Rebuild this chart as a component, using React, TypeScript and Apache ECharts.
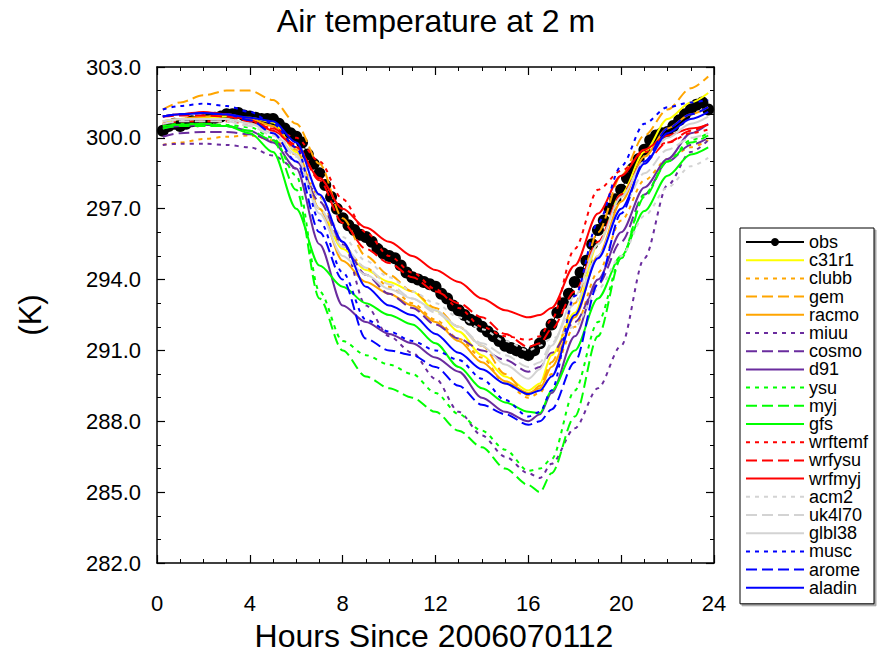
import React, { useEffect, useRef } from "react";
import * as echarts from "echarts";

// ---- Data ----
const TITLE = "Air temperature at 2 m";
const X_NAME = "Hours Since 2006070112";
const Y_NAME = "(K)";

// observation times (every 15 minutes)
const OBS_HOURS = Array.from({ length: 95 }, (_, i) => (i + 1) * 0.25);
const obs = [
  300.3, 300.5, 300.6, 300.5,
  300.6, 300.7, 300.7, 300.75,
  300.8, 300.85, 300.9, 301.0,
  301.0, 301.05, 300.95, 300.9,
  300.85, 300.8, 300.8, 300.8,
  300.6, 300.4, 300.2, 300.05,
  299.8, 299.3, 298.9, 298.5,
  298.0, 297.5, 297.0, 296.6,
  296.3, 296.1, 295.9, 295.8,
  295.6, 295.3, 295.1, 295.0,
  294.9, 294.6, 294.3, 294.1,
  294.0, 293.9, 293.8, 293.7,
  293.4, 293.2, 292.9, 292.7,
  292.5, 292.3, 292.2, 292.0,
  291.8, 291.6, 291.4, 291.2,
  291.1, 291.0, 290.9, 290.8,
  291.0, 291.3, 291.7, 292.1,
  292.6, 293.0, 293.4, 293.9,
  294.3, 294.8, 295.5, 296.1,
  296.5, 297.0, 297.4, 297.8,
  298.3, 298.7, 299.1, 299.5,
  299.9, 300.1, 300.2, 300.25,
  300.5, 300.75, 301.0, 301.2,
  301.4, 301.5, 301.2,
];

// model output times
const HOURS = [0.25, 1, 2, 3, 4, 5, 6, 7, 8, 9, 10, 11, 12, 13, 14, 15, 16, 16.5, 17, 18, 19, 20, 21, 22, 23, 23.75];

const c31r1 = [300.6, 300.8, 300.85, 300.9, 300.85, 300.65, 299.4, 297.0, 295.3, 294.4, 293.9, 293.5, 292.7, 291.8, 290.8, 289.9, 289.3, 289.6, 290.8, 292.6, 295.5, 297.6, 299.4, 300.8, 301.5, 301.9];
const clubb = [299.7, 299.8, 299.95, 300.05, 300.1, 299.9, 299.3, 297.5, 295.4, 294.5, 293.7, 293.0, 292.3, 291.5, 290.7, 289.6, 289.0, 289.2, 290.0, 292.0, 294.3, 296.5, 298.2, 299.1, 299.6, 299.9];
const gem = [301.2, 301.5, 301.8, 302.0, 302.0, 301.6, 300.6, 298.9, 296.6, 295.0, 294.2, 293.5, 292.8, 292.0, 291.2, 290.0, 289.1, 289.5, 290.5, 293.0, 296.0, 298.4, 300.1, 301.2, 302.1, 302.6];
const racmo = [300.7, 300.8, 300.9, 301.0, 300.8, 300.5, 299.5, 297.0, 294.8, 293.9, 293.4, 292.9, 292.2, 291.4, 290.5, 289.7, 289.2, 289.4, 290.3, 292.4, 295.0, 297.3, 299.2, 300.4, 301.0, 301.3];
const miuu = [299.7, 299.75, 299.75, 299.7, 299.6, 299.25, 298.7, 297.6, 295.6, 292.9, 291.6, 290.9, 289.8, 288.4, 287.4, 286.5, 285.8, 285.6, 286.2, 287.7, 289.4, 291.2, 294.9, 298.0, 299.4, 299.9];
const cosmo = [300.05, 300.2, 300.25, 300.25, 300.15, 299.9, 299.0, 297.3, 295.5, 294.2, 293.4, 292.8, 292.1, 291.5, 291.0, 290.6, 290.1, 290.3, 290.9, 292.2, 293.8, 295.6, 297.6, 299.0, 299.7, 300.0];
const d91 = [300.4, 300.5, 300.55, 300.5, 300.3, 299.8, 298.7, 295.5, 292.9, 292.2, 291.7, 291.3, 290.7, 290.1, 289.0, 288.4, 288.0, 288.3, 289.2, 291.6, 294.0, 296.0, 297.9, 299.1, 300.2, 300.6];
const ysu = [300.5, 300.6, 300.6, 300.55, 300.45, 300.0, 298.4, 293.5, 291.4, 290.8, 290.4, 290.0, 289.2, 288.3, 287.6, 286.8, 285.9, 286.0, 286.4, 289.3, 292.2, 294.9, 297.6, 299.0, 299.9, 300.2];
const myj = [300.4, 300.5, 300.5, 300.5, 300.3, 299.9, 297.8, 293.2, 291.0, 289.9, 289.4, 289.0, 288.4, 287.6, 286.9, 286.0, 285.3, 285.0, 285.8, 288.2, 291.6, 294.9, 297.5, 299.0, 299.8, 300.1];
const gfs = [300.5, 300.55, 300.6, 300.5, 300.2, 299.4, 297.0, 294.6, 293.7, 293.0, 292.5, 292.1, 291.3, 290.3, 289.4, 288.8, 288.4, 288.35, 289.3, 291.0, 293.2, 295.0, 296.9, 298.4, 299.3, 299.6];
const wrftemf = [300.6, 300.7, 300.7, 300.7, 300.6, 300.4, 300.0, 299.0, 297.4, 296.0, 295.0, 294.3, 293.6, 292.8, 292.0, 291.6, 291.45, 291.6, 292.3, 295.3, 297.8, 298.6, 299.4, 299.8, 300.2, 300.35];
const wrfysu = [300.9, 300.95, 300.95, 300.9, 300.7, 300.4, 299.7, 298.2, 296.4, 295.3, 294.7, 294.1, 293.5, 293.0, 292.4, 291.7, 291.15, 291.3, 291.9, 293.5, 295.6, 297.6, 299.0, 299.8, 300.3, 300.6];
const wrfmyj = [300.9, 301.0, 301.1, 301.0, 300.75, 300.3, 299.6, 298.3, 297.0, 296.2, 295.6, 295.0, 294.4, 293.9, 293.2, 292.7, 292.4, 292.5, 292.8, 294.6, 296.8, 298.4, 299.5, 300.1, 300.4, 300.55];
const acm2 = [300.7, 300.75, 300.8, 300.8, 300.6, 300.2, 299.5, 297.5, 295.8, 294.8, 294.1, 293.5, 293.0, 292.4, 291.9, 291.4, 291.0, 291.2, 291.5, 292.0, 293.6, 295.0, 296.7, 297.9, 298.8, 299.15];
const uk4l70 = [300.6, 300.7, 300.7, 300.7, 300.5, 300.1, 299.2, 297.0, 295.4, 294.5, 293.8, 293.2, 292.6, 292.0, 291.3, 290.8, 290.3, 290.5, 291.3, 293.0, 295.0, 297.0, 298.5, 299.5, 300.0, 300.2];
const glbl38 = [300.7, 300.8, 300.8, 300.8, 300.6, 300.2, 299.3, 296.8, 295.0, 294.2, 293.6, 293.2, 292.7, 292.0, 291.2, 290.4, 289.8, 290.2, 291.2, 293.3, 295.5, 297.5, 299.0, 300.0, 300.6, 300.9];
const musc = [301.2, 301.35, 301.45, 301.35, 301.1, 300.6, 299.6, 296.5, 294.3, 292.3, 291.8, 291.4, 291.0, 290.6, 289.8, 288.9, 288.2, 288.4, 289.3, 293.3, 296.4, 298.8, 300.6, 301.3, 301.5, 301.6];
const arome = [300.9, 301.0, 301.05, 301.0, 300.75, 300.2, 299.0, 296.0, 294.0, 291.5, 291.0, 290.8, 290.3, 289.5, 288.7, 288.3, 287.85, 288.0, 288.5, 290.5, 293.8, 296.8, 299.0, 300.4, 301.0, 301.3];
const aladin = [300.9, 301.0, 301.05, 301.0, 300.85, 300.7, 299.8, 297.6, 295.6, 293.7, 292.9, 292.5, 291.7, 290.9, 290.2, 289.6, 289.15, 289.3, 289.9, 292.5, 294.9, 297.0, 298.9, 300.2, 300.8, 301.1];

// ---- Styles ----
const YELLOW = "#FFFF00";
const ORANGE = "#FFA500";
const PURPLE = "#6A2C9E";
const GREEN = "#00FF00";
const RED = "#FF0000";
const GREY = "#D3D3D3";
const BLUE = "#0000FF";
const DOT = [4, 5];
const DASH = [11, 5];

const MODELS: { name: string; values: number[]; color: string; dash: any }[] = [
  { name: "c31r1", values: c31r1, color: YELLOW, dash: "solid" },
  { name: "clubb", values: clubb, color: ORANGE, dash: DOT },
  { name: "gem", values: gem, color: ORANGE, dash: DASH },
  { name: "racmo", values: racmo, color: ORANGE, dash: "solid" },
  { name: "miuu", values: miuu, color: PURPLE, dash: DOT },
  { name: "cosmo", values: cosmo, color: PURPLE, dash: DASH },
  { name: "d91", values: d91, color: PURPLE, dash: "solid" },
  { name: "ysu", values: ysu, color: GREEN, dash: DOT },
  { name: "myj", values: myj, color: GREEN, dash: DASH },
  { name: "gfs", values: gfs, color: GREEN, dash: "solid" },
  { name: "wrftemf", values: wrftemf, color: RED, dash: DOT },
  { name: "wrfysu", values: wrfysu, color: RED, dash: DASH },
  { name: "wrfmyj", values: wrfmyj, color: RED, dash: "solid" },
  { name: "acm2", values: acm2, color: GREY, dash: DOT },
  { name: "uk4l70", values: uk4l70, color: GREY, dash: DASH },
  { name: "glbl38", values: glbl38, color: GREY, dash: "solid" },
  { name: "musc", values: musc, color: BLUE, dash: DOT },
  { name: "arome", values: arome, color: BLUE, dash: DASH },
  { name: "aladin", values: aladin, color: BLUE, dash: "solid" },
];

const FONT = "'Liberation Sans', Arial, Helvetica, sans-serif";

function axisCommon(showLabel: boolean, isX: boolean) {
  return {
    type: "value" as const,
    min: isX ? 0 : 282,
    max: isX ? 24 : 303,
    interval: isX ? 4 : 3,
    axisLine: { show: true, onZero: false, lineStyle: { color: "#000", width: 1.5 } },
    axisTick: { show: true, inside: true, length: 8, lineStyle: { color: "#000", width: 1.2 } },
    minorTick: { show: true, splitNumber: isX ? 4 : 3, length: 4, lineStyle: { color: "#000", width: 1 } },
    splitLine: { show: false },
    minorSplitLine: { show: false },
    axisLabel: showLabel
      ? {
          show: true,
          color: "#000",
          fontSize: 22,
          fontFamily: FONT,
          margin: isX ? 29 : 16,
          formatter: isX ? (v: number) => String(v) : (v: number) => v.toFixed(1),
        }
      : { show: false },
  };
}

export default function App() {
  const ref = useRef<HTMLDivElement>(null);
  useEffect(() => {
    if (!ref.current) return;
    const chart = echarts.init(ref.current, undefined, { renderer: "svg" });
    const series: any[] = [
      {
        name: "obs",
        type: "line",
        data: OBS_HOURS.map((h, i) => [h, obs[i]]),
        symbol: "circle",
        symbolSize: 12,
        showSymbol: true,
        lineStyle: { color: "#000", width: 1 },
        itemStyle: { color: "#000" },
        z: 2,
      },
      ...MODELS.map((m) => ({
        name: m.name,
        type: "line",
        data: HOURS.map((h, i) => [h, m.values[i]]),
        symbol: "none",
        showSymbol: false,
        smooth: 0.3,
        smoothMonotone: "x",
        lineStyle: { color: m.color, width: 2, type: m.dash },
        itemStyle: { color: m.color },
        z: 3,
      })),
    ];
    const option: any = {
      animation: false,
      backgroundColor: "#fff",
      grid: { left: 157, right: 172, top: 67, bottom: 94, containLabel: false },
      xAxis: [
        { ...axisCommon(true, true), position: "bottom" },
        { ...axisCommon(false, true), position: "top" },
      ],
      yAxis: [
        { ...axisCommon(true, false), position: "left" },
        { ...axisCommon(false, false), position: "right" },
      ],
      legend: {
        orient: "vertical",
        left: 740,
        top: 228,
        height: 420,
        data: [
          { name: "obs" },
          ...MODELS.map((m) => ({ name: m.name, itemStyle: { opacity: 0 } })),
        ],
        itemWidth: 58,
        itemHeight: 10,
        itemGap: 0.2,
        padding: [5, 6, 7, 5],
        borderColor: "#000",
        borderWidth: 1,
        backgroundColor: "#fff",
        shadowColor: "rgba(0,0,0,0.35)",
        shadowOffsetX: 2,
        shadowOffsetY: 2,
        shadowBlur: 0,
        selectedMode: false,
        textStyle: { fontSize: 18, color: "#000", fontFamily: FONT },
      },
      graphic: [
        {
          type: "text",
          x: 436,
          y: 21,
          style: {
            text: TITLE,
            fontSize: 32,
            fontFamily: FONT,
            fill: "#000",
            textAlign: "center",
            textVerticalAlign: "middle",
            align: "center",
            verticalAlign: "middle",
          },
        },
        {
          type: "text",
          x: 434,
          y: 636,
          style: {
            text: X_NAME,
            fontSize: 32,
            fontFamily: FONT,
            fill: "#000",
            textAlign: "center",
            textVerticalAlign: "middle",
            align: "center",
            verticalAlign: "middle",
          },
        },
        {
          type: "text",
          x: 30,
          y: 315,
          rotation: Math.PI / 2,
          style: {
            text: Y_NAME,
            fontSize: 31,
            fontFamily: FONT,
            fill: "#000",
            textAlign: "center",
            textVerticalAlign: "middle",
            align: "center",
            verticalAlign: "middle",
          },
        },
      ],
      series,
    };
    chart.setOption(option);
    return () => chart.dispose();
  }, []);
  return (
    <div
      ref={ref}
      style={{ position: "fixed", left: 0, top: 0, width: 886, height: 657, background: "#fff" }}
    />
  );
}
